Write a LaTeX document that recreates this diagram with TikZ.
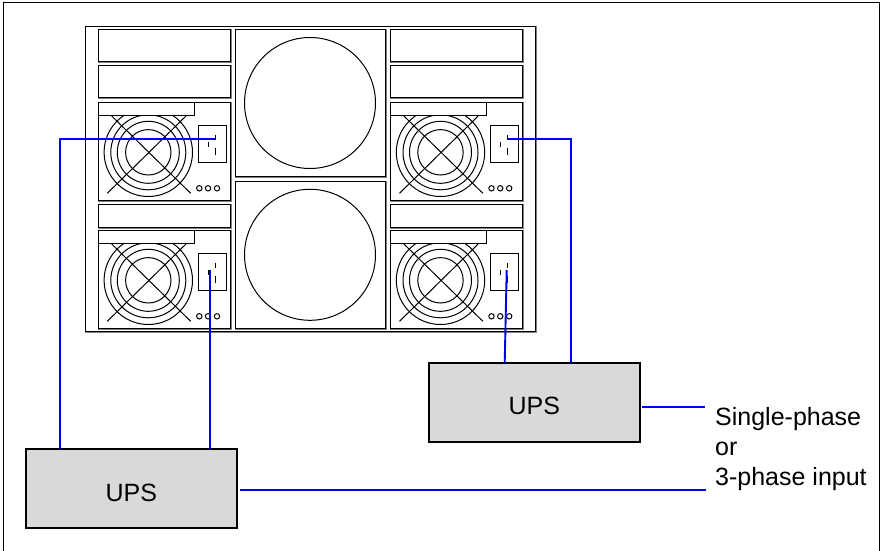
\documentclass[tikz,border=0pt]{standalone}
\usepackage{fontspec}
\setmainfont{Liberation Sans}
\tikzset{
  edgebox/.style={draw=black,line width=1pt,fill=white},
  shade box/.style={draw=black!50,line width=2.2pt},
  thin line/.style={draw=black,line width=1pt},
  cable/.style={draw=blue!95!black,line width=1.9pt},
  ups/.style={draw=black,line width=2pt,fill=black!15,minimum width=211pt,minimum height=79pt,inner sep=0pt,text height=24.5pt,text depth=0pt,font=\fontsize{25}{30}\selectfont},
  label text/.style={inner sep=0pt,align=left,font=\fontsize{25}{30}\selectfont},
}
\newcommand{\gbox}[4]{%
  \draw[shade box] (#1+0.4,#2+0.4) rectangle (#3+0.4,#4+0.4);
  \draw[edgebox] (#1,#2) rectangle (#3,#4);}
\newcommand{\psumod}[3]{%
 \begin{scope}[shift={(#2,#3)}]
  \gbox{0}{0}{132}{98}
  \foreach \r in {44.2,37.5,31,22.7}{\draw[thin line] (50,49.6) circle[radius=\r];}
  \draw[thin line] (9,90.6) -- (87.7,13.3);
  \draw[thin line] (92.4,90.6) -- (13.4,13.3);
  \draw[edgebox] (0,0) rectangle (96.2,13);
  \draw[thin line] (99.7,23) rectangle (128.4,59.6);
  \draw[thin line] (110.4,39) -- (110.4,44.7);
  \draw[thin line] (117,32.5) -- (117,37.5);
  \draw[thin line] (117,45.6) -- (117,52.3);
  \foreach \c in {101,109.7,118.7}{\draw[thin line] (\c,85.6) circle[radius=2.7];}
  \coordinate (#1pinA) at (117,36);
  \coordinate (#1pinB) at (111,39.5);
 \end{scope}}
\begin{document}
\begin{tikzpicture}[x=1pt,y=-1pt]
\useasboundingbox (0,0) rectangle (881,551);
\draw[draw=black,line width=1.4pt] (3.3,551) -- (3.3,2.4) -- (879.3,2.4) -- (879.3,551);
% chassis
\gbox{85.5}{27}{535}{331.3}
% left and right slots
\foreach \x in {98.3,390.5}{
  \gbox{\x}{29.5}{\x+132}{61.7}
  \gbox{\x}{65.5}{\x+132}{97.7}
  \gbox{\x}{204.3}{\x+132}{227}
}
\psumod{tl}{98.3}{102.7}
\psumod{tr}{390.5}{102.7}
\psumod{bl}{98.3}{230.7}
\psumod{br}{390.5}{230.7}
% centre bays
\gbox{235.3}{29.5}{385.3}{176.7}
\gbox{235.3}{181.3}{385.3}{328.3}
\node[draw=black,line width=1pt,circle,minimum size=131pt,inner sep=0pt] (fanT) at (310,103) {};
\node[draw=black,line width=1pt,circle,minimum size=131pt,inner sep=0pt] (fanB) at (310,254.8) {};
% UPS units
\node[ups] (upsA) at (131.4,488.8) {UPS};
\node[ups] (upsB) at (534.3,402.2) {UPS};
\node[label text,anchor=west] (input) at (715,449.5) {Single-phase\\or\\3-phase input};
% cable ends
\coordinate (a1) at (60.3,449);
\coordinate (a2) at (209.8,449);
\coordinate (b1) at (504.7,363);
\coordinate (b2) at (570.8,363);
\coordinate (s1) at (642,406.7);
\coordinate (e1) at (705,406.7);
\coordinate (s2) at (240,489.7);
\coordinate (e2) at (706,489.7);
\coordinate (br2) at (506.7,270);
\coordinate (blEnd) at (209.8,270);
\draw[cable] (a1) |- (tlpinA);
\draw[cable] (a2) -- (blEnd);
\draw[cable] (b1) -- (br2);
\draw[cable] (b2) |- (trpinA);
\draw[cable] (s1) -- (e1);
\draw[cable] (s2) -- (e2);
\end{tikzpicture}
\end{document}
